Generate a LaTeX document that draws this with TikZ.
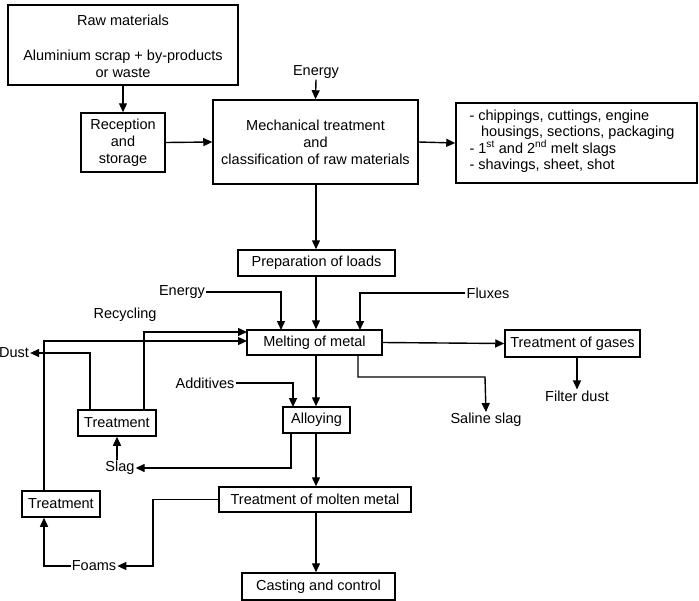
\documentclass[tikz,border=0pt]{standalone}
\usepackage{fontspec}
\setmainfont{Liberation Sans}
\usetikzlibrary{arrows.meta}
\begin{document}
\begin{tikzpicture}[x=1pt,y=-1pt,
  box/.style={draw,line width=1.5pt,inner sep=0pt},
  lbl/.style={inner sep=1pt},
  ar/.style={line width=1.4pt,-{Triangle[length=9pt,width=8pt]}},
  every node/.style={font=\fontsize{14.5}{17}\selectfont}]
\useasboundingbox (0,0) rectangle (699,600);
% boxes
\node[box,minimum width=230pt,minimum height=80pt] (raw) at (123,45) {};
\node at (123,20) {Raw materials};
\node[align=center] at (123,64) {Aluminium scrap + by-products\\or waste};
\node[box,minimum width=84pt,minimum height=59pt,align=center,font=\fontsize{14.5}{17}\selectfont] (rec) at (123,142.5) {Reception\\and\\storage};
\node[box,minimum width=205pt,minimum height=84pt,align=center,font=\fontsize{14.5}{17}\selectfont] (mech) at (315.5,142) {Mechanical treatment\\and\\classification of raw materials};
\node[box,minimum width=241pt,minimum height=80pt] (list) at (576.5,143) {};
\node[align=left,anchor=north west,font=\fontsize{14.5}{16.5}\selectfont] at (466,106) {- chippings, cuttings, engine\\\hspace*{0.8em}housings, sections, packaging\\- 1\textsuperscript{st} and 2\textsuperscript{nd} melt slags\\- shavings, sheet, shot};
\node[lbl] (en1) at (316,72) {Energy};
\node[box,minimum width=157pt,minimum height=26pt] (prep) at (316.5,263) {Preparation of loads};
\node[box,minimum width=135pt,minimum height=25pt] (melt) at (314.5,342.5) {Melting of metal};
\node[box,minimum width=135pt,minimum height=27pt] (gas) at (572.5,343.5) {Treatment of gases};
\node[lbl] (fd) at (577,396) {Filter dust};
\node[lbl] (en2) at (182,292) {Energy};
\node[lbl] (flux) at (488,293) {Fluxes};
\node[lbl] at (125,315) {Recycling};
\node[lbl] (dust) at (14,353) {Dust};
\node[lbl] (add) at (205,383) {Additives};
\node[lbl] (ss) at (486,420) {Saline slag};
\node[box,minimum width=67pt,minimum height=26pt] (alloy) at (316.5,420) {Alloying};
\node[box,minimum width=78pt,minimum height=26pt] (t1) at (117,423) {Treatment};
\node[lbl] (slag) at (120,468) {Slag};
\node[box,minimum width=192pt,minimum height=25pt] (tm) at (315,499.5) {Treatment of molten metal};
\node[box,minimum width=78pt,minimum height=26pt] (t2) at (61,504) {Treatment};
\node[lbl] (foams) at (94,566) {Foams};
\node[box,minimum width=153pt,minimum height=27pt] (cast) at (318.5,586.5) {Casting and control};
% connectors
\draw[ar] (raw.south -| rec.north) -- (rec.north);
\draw[ar] (rec.east) -- (mech.west);
\draw[ar] (mech.east) -- (list.west);
\draw[ar] (en1.south) -- (mech.north);
\draw[ar] (316,184) -- (prep.north -| 316,0);
\draw[ar] (316,276) -- (melt.north -| 316,0);
\draw[ar] (en2.east) -| (281,330);
\draw[ar] (flux.west) -| (360,330);
\draw[ar] (melt.east) -- (gas.west);
\draw[ar] (gas.south -| fd.north) -- (fd.north);
\draw[ar] (358,355) |- (485,377) -- (ss.north);
\draw[ar] (316,355) -- (alloy.north -| 316,0);
\draw[ar] (add.east) -| (293,407);
\draw[ar] (316,433) -- (tm.north -| 316,0);
\draw[ar] (291,433) |- (slag.east);
\draw[ar] (slag.north -| t1.south) -- (t1.south);
\draw[ar] (t1.north -| 90,0) |- (dust.east);
\draw[ar] (t1.north -| 144,0) |- (247,332);
\draw[ar] (t2.north -| 44,0) |- (247,341);
\draw[ar] (tm.west) -| (153,566) -- (foams.east);
\draw[ar] (foams.west) -| (t2.south -| 44,0);
\draw[ar] (tm.south -| 316,0) -- (cast.north -| 316,0);
\end{tikzpicture}
\end{document}
